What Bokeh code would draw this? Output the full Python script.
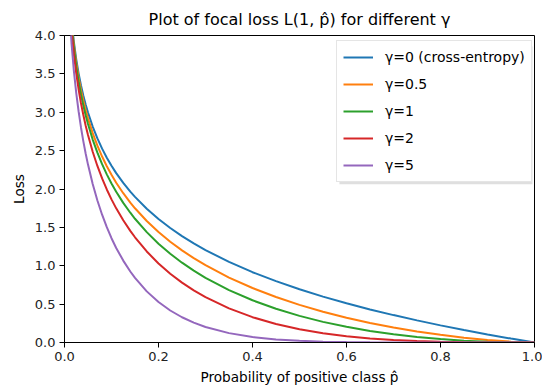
from bokeh.plotting import figure
from bokeh.models import Range1d, FixedTicker, Legend, LegendItem, CustomJSTickFormatter, BoxAnnotation
from bokeh.embed import file_html
from bokeh.resources import INLINE

# Probability of positive class (x) and loss values
p_hat = [0.01, 0.015, 0.02, 0.025, 0.03, 0.035, 0.04, 0.045, 0.05, 0.06, 0.07, 0.08,
         0.09, 0.10, 0.11, 0.125, 0.14, 0.15, 0.175, 0.20, 0.225, 0.25, 0.275, 0.30,
         0.35, 0.40, 0.45, 0.50, 0.55, 0.60, 0.65, 0.70, 0.75, 0.80, 0.85, 0.90,
         0.95, 1.00]

loss_g0 = [4.605, 4.200, 3.912, 3.689, 3.507, 3.352, 3.219, 3.101, 2.996, 2.813, 2.659, 2.526,
           2.408, 2.303, 2.207, 2.079, 1.966, 1.897, 1.743, 1.609, 1.492, 1.386, 1.291, 1.204,
           1.050, 0.916, 0.799, 0.693, 0.598, 0.511, 0.431, 0.357, 0.288, 0.223, 0.163, 0.105,
           0.051, 0.0]
loss_g05 = [4.582, 4.168, 3.873, 3.643, 3.454, 3.293, 3.154, 3.030, 2.921, 2.728, 2.564, 2.423,
            2.297, 2.185, 2.082, 1.945, 1.823, 1.749, 1.583, 1.439, 1.313, 1.200, 1.099, 1.007,
            0.846, 0.710, 0.593, 0.490, 0.401, 0.323, 0.255, 0.196, 0.144, 0.100, 0.063, 0.033,
            0.011, 0.0]
loss_g1 = [4.559, 4.137, 3.834, 3.597, 3.402, 3.235, 3.090, 2.961, 2.846, 2.644, 2.473, 2.324,
           2.191, 2.072, 1.964, 1.819, 1.691, 1.612, 1.438, 1.287, 1.156, 1.040, 0.936, 0.843,
           0.683, 0.550, 0.439, 0.347, 0.269, 0.204, 0.151, 0.107, 0.072, 0.045, 0.024, 0.011,
           0.003, 0.0]
loss_g2 = [4.513, 4.075, 3.757, 3.507, 3.300, 3.121, 2.967, 2.828, 2.704, 2.486, 2.300, 2.138,
           1.994, 1.865, 1.748, 1.592, 1.454, 1.371, 1.186, 1.030, 0.896, 0.780, 0.679, 0.590,
           0.444, 0.330, 0.242, 0.173, 0.121, 0.082, 0.053, 0.032, 0.018, 0.009, 0.004, 0.001,
           0.0, 0.0]
loss_g5 = [4.380, 3.894, 3.536, 3.250, 3.013, 2.805, 2.624, 2.463, 2.318, 2.065, 1.850, 1.665,
           1.503, 1.359, 1.232, 1.067, 0.925, 0.842, 0.666, 0.527, 0.417, 0.329, 0.259, 0.202,
           0.122, 0.071, 0.040, 0.022, 0.011, 0.005, 0.002, 0.001, 0.0, 0.0, 0.0, 0.0,
           0.0, 0.0]

series_labels = ["γ=0 (cross-entropy)", "γ=0.5", "γ=1", "γ=2", "γ=5"]
series_colors = ["#1f77b4", "#ff7f0e", "#2ca02c", "#d62728", "#9467bd"]
series_values = [loss_g0, loss_g05, loss_g1, loss_g2, loss_g5]

x_ticks = [0.0, 0.2, 0.4, 0.6, 0.8, 1.0]
y_ticks = [0.0, 0.5, 1.0, 1.5, 2.0, 2.5, 3.0, 3.5, 4.0]

FONT = "DejaVu Sans"

p = figure(width=542, height=391, output_backend="svg", toolbar_location=None,
           x_range=Range1d(0, 1), y_range=Range1d(0, 4),
           min_border_left=64, min_border_right=8, min_border_top=35, min_border_bottom=49,
           title="Plot of focal loss L(1, p̂) for different γ")

p.title.align = "center"
p.title.vertical_align = "top"
p.title.text_font = FONT
p.title.text_font_size = "16px"
p.title.text_font_style = "normal"
p.title.text_color = "#000000"
p.title.text_line_height = 1.0
p.title.standoff = 10

items = []
for lab, col, vals in zip(series_labels, series_colors, series_values):
    r = p.line(p_hat, vals, line_color=col, line_width=2)
    items.append(LegendItem(label=lab, renderers=[r]))

# soft shadow behind the legend box (offset down-right by a few pixels)
shadow = BoxAnnotation(left=0.585, right=0.9957, top=3.857, bottom=2.062,
                       fill_color="#808080", fill_alpha=0.25, line_color=None)
p.add_layout(shadow)

legend = Legend(items=items, location=(272, 160))
legend.padding = 6
legend.spacing = 7
legend.glyph_width = 30
legend.glyph_height = 20
legend.label_height = 20
legend.label_standoff = 12
legend.label_text_font = FONT
legend.label_text_font_size = "14px"
legend.margin = 0
legend.label_text_color = "#000000"
legend.border_line_color = "#cccccc"
legend.border_line_width = 1
legend.background_fill_color = "white"
legend.background_fill_alpha = 1.0
p.add_layout(legend)

p.grid.visible = False
p.outline_line_color = "black"
p.outline_line_alpha = 1.0

p.xaxis.ticker = FixedTicker(ticks=x_ticks)
p.yaxis.ticker = FixedTicker(ticks=y_ticks)
p.xaxis.axis_label = "Probability of positive class p̂"
p.yaxis.axis_label = "Loss"
for ax in (p.xaxis, p.yaxis):
    ax.axis_line_color = "black"
    ax.major_tick_line_color = "black"
    ax.major_tick_in = 0
    ax.major_tick_out = 5
    ax.major_label_standoff = 4
    ax.minor_tick_line_color = None
    ax.major_label_text_font = FONT
    ax.major_label_text_font_size = "13px"
    ax.major_label_text_color = "#222222"
    ax.axis_label_text_font = FONT
    ax.axis_label_text_font_size = "13.6px"
    ax.axis_label_text_font_style = "normal"
    ax.axis_label_text_color = "#000000"
    ax.axis_label_standoff = 5
p.xaxis.formatter = CustomJSTickFormatter(code="return tick.toFixed(1);")
p.yaxis.formatter = CustomJSTickFormatter(code="return tick.toFixed(1);")

open("out.html", "w").write(file_html(p, INLINE))
